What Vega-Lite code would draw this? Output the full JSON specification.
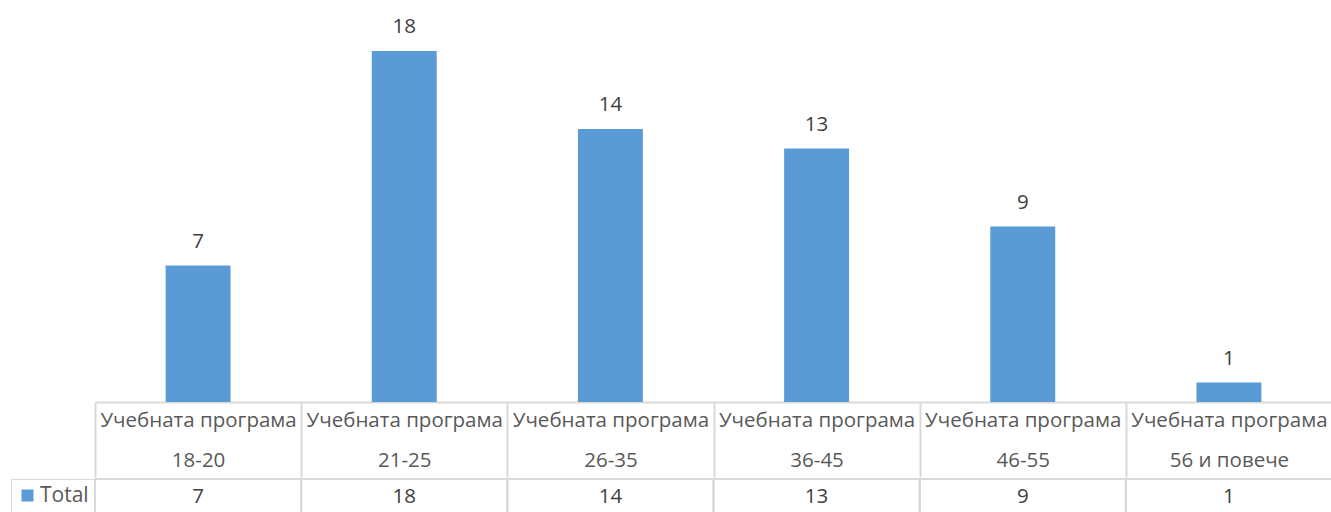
{
  "$schema": "https://vega.github.io/schema/vega-lite/v6.json",
  "background": "white",
  "padding": {"left": 10, "top": 12, "right": 0, "bottom": 0},
  "spacing": 0,
  "config": {
    "font": "Open Sans",
    "view": {"stroke": null},
    "text": {"font": "Open Sans"}
  },
  "datasets": {
    "d": [
      {"cat": "Учебната програма|18-20", "series": "Total", "value": 7},
      {"cat": "Учебната програма|21-25", "series": "Total", "value": 18},
      {"cat": "Учебната програма|26-35", "series": "Total", "value": 14},
      {"cat": "Учебната програма|36-45", "series": "Total", "value": 13},
      {"cat": "Учебната програма|46-55", "series": "Total", "value": 9},
      {"cat": "Учебната програма|56 и повече", "series": "Total", "value": 1}
    ]
  },
  "vconcat": [
    {
      "width": 1237,
      "height": 390,
      "data": {"name": "d"},
      "encoding": {
        "x": {
          "field": "cat",
          "type": "nominal",
          "sort": null,
          "scale": {"paddingInner": 0.685, "paddingOuter": 0.3425},
          "axis": {
            "title": null,
            "labelExpr": "split(datum.label, '|')",
            "labelAngle": 0,
            "labelFontSize": 20.5,
            "labelColor": "#595959",
            "labelLineHeight": 40,
            "labelBaseline": "top",
            "labelPadding": -67,
            "labelLimit": 0,
            "tickOffset": -103.08,
            "labelOffset": 103.08,
            "tickSize": 75,
            "tickColor": "#d9d9d9",
            "tickWidth": 2,
            "domainColor": "#d9d9d9",
            "domainWidth": 2
          }
        },
        "y": {
          "field": "value",
          "type": "quantitative",
          "scale": {"domain": [0, 20], "nice": false},
          "axis": null
        }
      },
      "layer": [
        {"mark": {"type": "bar", "color": "#5b9bd5"}},
        {
          "mark": {"type": "text", "baseline": "bottom", "dy": -14, "fontSize": 20.5, "color": "#404040"},
          "encoding": {"text": {"field": "value", "type": "quantitative"}}
        }
      ]
    },
    {
      "width": 1237,
      "height": 36,
      "data": {"name": "d"},
      "encoding": {
        "x": {
          "field": "cat",
          "type": "nominal",
          "sort": null,
          "scale": {"paddingInner": 0, "paddingOuter": 0},
          "axis": null
        },
        "y": {"field": "series", "type": "nominal", "axis": null}
      },
      "layer": [
        {
          "mark": {"type": "rect", "fillOpacity": 0, "stroke": "#d9d9d9", "strokeWidth": 2},
          "encoding": {
            "color": {
              "field": "series",
              "type": "nominal",
              "scale": {"range": ["#5b9bd5"]},
              "legend": {
                "orient": "left",
                "title": null,
                "offset": 0,
                "padding": 6,
                "symbolType": "square",
                "symbolSize": 144,
                "symbolOpacity": 1,
                "symbolFillColor": "#5b9bd5",
                "symbolStrokeWidth": 0,
                "labelFontSize": 21,
                "labelColor": "#595959",
                "labelOffset": 2,
                "strokeColor": "#d9d9d9"
              }
            }
          }
        },
        {
          "mark": {"type": "text", "fontSize": 20.5, "color": "#404040"},
          "encoding": {"text": {"field": "value", "type": "quantitative"}}
        }
      ]
    }
  ],
  "resolve": {
    "scale": {"x": "independent", "y": "independent", "color": "independent"},
    "legend": {"color": "independent"}
  }
}
